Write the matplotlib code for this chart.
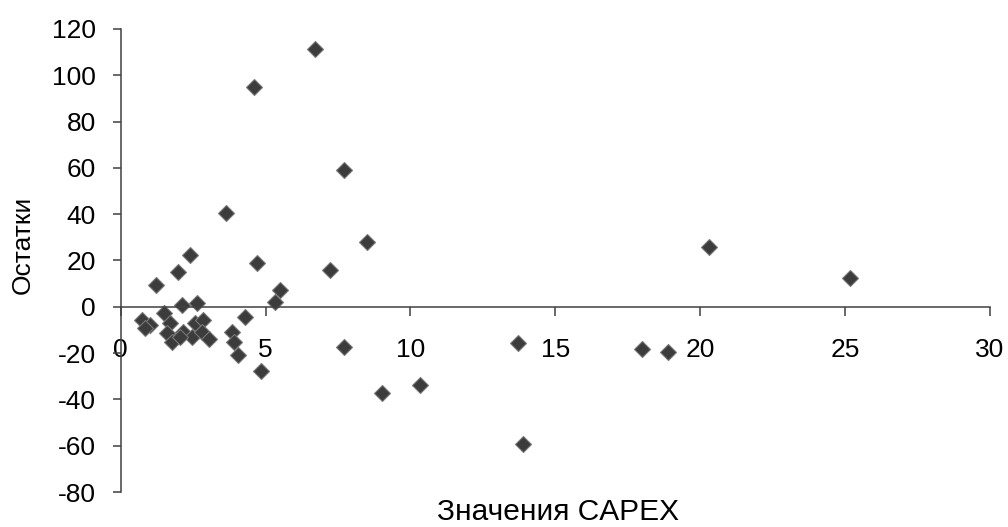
import matplotlib
matplotlib.use('Agg')
import matplotlib.pyplot as plt

# values
capex = [6.72, 4.61, 7.70, 3.63, 8.50, 4.69, 7.22, 5.49, 5.32, 2.39, 1.99, 1.22,
         2.10, 2.64, 1.50, 4.29, 0.72, 1.01, 0.84, 1.70, 1.59, 1.76, 2.16, 2.45,
         2.56, 2.85, 2.04, 2.79, 3.05, 3.85, 3.90, 4.06, 4.84, 7.71, 9.03, 10.32,
         13.71, 13.88, 18.0, 18.88, 20.30, 25.17]
resid = [111.3, 94.8, 59.3, 40.6, 27.8, 18.9, 16.1, 7.2, 1.9, 22.3, 15.1, 9.4,
         0.7, 1.7, -2.6, -4.2, -5.7, -7.9, -9.3, -7.2, -11.5, -15.1, -10.8, -13.0,
         -7.2, -5.7, -13.0, -10.8, -14.0, -11.0, -15.0, -20.9, -27.7, -17.3, -37.1, -33.8,
         -15.5, -59.3, -18.3, -19.4, 25.9, 12.5]
xticks = [0, 5, 10, 15, 20, 25, 30]
yticks = [-80, -60, -40, -20, 0, 20, 40, 60, 80, 100, 120]

plt.rcParams['font.family'] = ['Liberation Sans', 'DejaVu Sans']
plt.rcParams['axes.unicode_minus'] = False

fig = plt.figure(figsize=(10.08, 5.27), dpi=100)
ax = fig.add_axes([0.1197, 0.0664, 0.8624, 0.8786])

ax.plot(capex, resid, linestyle='none', marker='D', markersize=8.5,
        markerfacecolor='#3c3c3c', markeredgecolor='#777777', markeredgewidth=0.8)

ax.set_xlim(0, 30)
ax.set_ylim(-80, 120)
ax.set_xticks(xticks)
ax.set_yticks(yticks)

ax.spines['top'].set_visible(False)
ax.spines['right'].set_visible(False)
ax.spines['bottom'].set_position(('data', 0))
for s in ('left', 'bottom'):
    ax.spines[s].set_color('#404040')
    ax.spines[s].set_linewidth(1.1)

ax.tick_params(axis='x', direction='out', length=6.5, width=1.1, color='#404040',
               pad=16, labelsize=19)
ax.tick_params(axis='y', direction='out', length=6, width=1.1, color='#404040',
               pad=12, labelsize=19)

ax.set_ylabel('Остатки', fontsize=19)
ax.yaxis.set_label_coords(-0.113, 0.533)
ax.set_xlabel('Значения CAPEX', fontsize=21.5)
ax.xaxis.set_label_coords(0.503, -0.043)
ax.xaxis.label.set_va('center')
ax.yaxis.label.set_va('center')

fig.savefig('out.png', dpi=100)
